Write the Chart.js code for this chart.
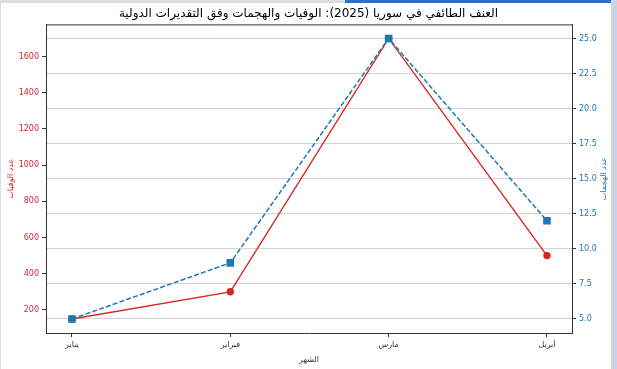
<!DOCTYPE html>
<html lang="ar">
<head>
  <meta charset="UTF-8" />
  <title>العنف الطائفي في سوريا (2025)</title>
  <script src="https://cdn.jsdelivr.net/npm/chart.js@4"></script>
  <style>
    html, body { margin: 0; padding: 0; background: #ffffff; }
    #wrap { position: relative; width: 617px; height: 369px; overflow: hidden; }
    canvas { display: block; }
    /* screenshot frame bits */
    .edge-top-left { position: absolute; left: 0; top: 0; width: 345px; height: 3px; background: #d9dee5; }
    .edge-top-right { position: absolute; left: 345px; top: 0; width: 272px; height: 3px; background: #2a72c8; }
    .edge-right { position: absolute; right: 0; top: 0; width: 6px; height: 369px; background: #c9d5e4; }
    .edge-left { position: absolute; left: 0; top: 0; width: 1px; height: 369px; background: #d9dee5; }
  </style>
</head>
<body>
  <div id="wrap">
    <canvas id="violenceChart" width="617" height="369"></canvas>
    <div class="edge-top-left"></div>
    <div class="edge-top-right"></div>
    <div class="edge-left"></div>
    <div class="edge-right"></div>
  </div>

  <script>
    // data
    const months = ["يناير", "فبراير", "مارس", "أبريل"];
    const deaths = [150, 300, 1700, 500];
    const attacks = [5, 9, 25, 12];
    const deathTicks = [200, 400, 600, 800, 1000, 1200, 1400, 1600];
    const attackTicks = [5, 7.5, 10, 12.5, 15, 17.5, 20, 22.5, 25];

    const red = "#d62728";
    const blue = "#1f77b4";
    const dark = "#333333";
    const font = "DejaVu Sans";

    // top spine + right axis label (matplotlib style, rotated ccw)
    const framePlugin = {
      id: "frame",
      afterDraw(chart) {
        const { ctx, chartArea: a } = chart;
        ctx.save();
        ctx.strokeStyle = dark;
        ctx.lineWidth = 1;
        ctx.beginPath();
        ctx.moveTo(a.left, a.top + 0.5);
        ctx.lineTo(a.right, a.top + 0.5);
        ctx.stroke();

        ctx.translate(604, (a.top + a.bottom) / 2);
        ctx.rotate(-Math.PI / 2);
        ctx.fillStyle = blue;
        ctx.font = "8px '" + font + "'";
        ctx.textAlign = "center";
        ctx.textBaseline = "middle";
        ctx.fillText("عدد الهجمات", 0, 0);
        ctx.restore();
      }
    };

    new Chart(document.getElementById("violenceChart"), {
      type: "line",
      data: {
        datasets: [
          {
            label: "عدد الوفيات",
            data: deaths.map((v, i) => ({ x: i, y: v })),
            yAxisID: "y",
            borderColor: red,
            backgroundColor: red,
            borderWidth: 1.4,
            pointStyle: "circle",
            pointRadius: 3,
            tension: 0,
            order: 1
          },
          {
            label: "عدد الهجمات",
            data: attacks.map((v, i) => ({ x: i, y: v })),
            yAxisID: "y1",
            borderColor: blue,
            backgroundColor: blue,
            borderWidth: 1.5,
            borderDash: [5, 2.2],
            pointStyle: "rect",
            pointRadius: 4.3,
            tension: 0,
            order: 0
          }
        ]
      },
      options: {
        responsive: false,
        animation: false,
        layout: { padding: 0 },
        plugins: {
          legend: { display: false },
          tooltip: { enabled: false },
          title: {
            display: true,
            text: "العنف الطائفي في سوريا (2025): الوفيات والهجمات وفق التقديرات الدولية",
            color: "#000000",
            font: { family: font, size: 12, weight: "normal" },
            padding: { top: 7, bottom: 3 }
          }
        },
        scales: {
          x: {
            type: "linear",
            min: -0.164,
            max: 3.158,
            afterBuildTicks: s => { s.ticks = months.map((m, i) => ({ value: i })); },
            afterFit: s => { s.height = 36; },
            ticks: {
              callback: v => months[v],
              color: dark,
              font: { family: font, size: 8 },
              padding: 3,
              maxRotation: 0
            },
            grid: { drawOnChartArea: false, tickLength: 4, tickColor: dark },
            border: { color: dark, width: 1 },
            title: {
              display: true,
              text: "الشهر",
              color: dark,
              font: { family: font, size: 8 },
              padding: { top: 2, bottom: 4 }
            }
          },
          y: {
            position: "left",
            min: 72.5,
            max: 1777.5,
            afterBuildTicks: s => { s.ticks = deathTicks.map(v => ({ value: v })); },
            afterFit: s => { s.width = 46; },
            ticks: {
              color: red,
              font: { family: font, size: 8 },
              padding: 3,
              callback: v => String(v)
            },
            grid: { drawOnChartArea: false, tickLength: 4, tickColor: dark },
            border: { color: dark, width: 1 },
            title: {
              display: true,
              text: "عدد الوفيات",
              color: red,
              font: { family: font, size: 8 },
              padding: { top: 6, bottom: 2 }
            }
          },
          y1: {
            position: "right",
            min: 4,
            max: 26,
            afterBuildTicks: s => { s.ticks = attackTicks.map(v => ({ value: v })); },
            afterFit: s => { s.width = 45; },
            ticks: {
              color: blue,
              font: { family: font, size: 8 },
              padding: 3,
              callback: v => v.toFixed(1)
            },
            grid: {
              color: "rgba(0,0,0,0.17)",
              lineWidth: 1,
              tickLength: 4,
              tickColor: dark
            },
            border: { color: dark, width: 1 }
          }
        }
      },
      plugins: [framePlugin]
    });
  </script>
</body>
</html>
